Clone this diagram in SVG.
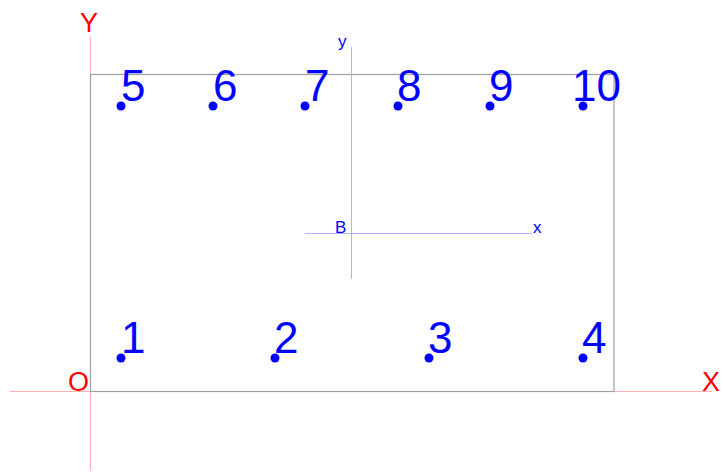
<svg xmlns="http://www.w3.org/2000/svg" width="723" height="472" viewBox="0 0 723 472">
<style>
.axis{stroke:#ffb0b0;stroke-width:1;fill:none}
.loc{stroke:#b0b0ff;stroke-width:1;fill:none}
.rect{stroke:#a0a0a0;stroke-width:1.2;fill:none}
.axl{fill:#ff0000;font-family:"Liberation Sans",Arial,sans-serif;font-size:27px}
.sm{fill:#0000ff;font-family:"Liberation Sans",Arial,sans-serif;font-size:17px}
.num{fill:#0000ff;font-family:"Liberation Sans",Arial,sans-serif;font-size:44px}
.pt{fill:#0000ff}
</style>
<g id="connectors">
<line class="axis" x1="90.5" y1="36" x2="90.5" y2="470"/>
<line class="axis" x1="10" y1="391.5" x2="712" y2="391.5"/>
<rect class="rect" x="90.5" y="74.5" width="523.5" height="317"/>
<line class="loc" x1="351.5" y1="47" x2="351.5" y2="279"/>
<line class="loc" x1="305" y1="233.5" x2="532" y2="233.5"/>
</g>
<g id="axis-labels">
<text class="axl" x="80" y="32">Y</text>
<text class="axl" x="68" y="391">O</text>
<text class="axl" x="702" y="391">X</text>
<text class="sm" x="338" y="47">y</text>
<text class="sm" x="335" y="233">B</text>
<text class="sm" x="533" y="233">x</text>
</g>
<g id="p1"><circle class="pt" cx="121" cy="358" r="4.5"/><text class="num" x="121" y="353">1</text></g>
<g id="p2"><circle class="pt" cx="275" cy="358" r="4.5"/><text class="num" x="274" y="353">2</text></g>
<g id="p3"><circle class="pt" cx="429" cy="358" r="4.5"/><text class="num" x="428" y="353">3</text></g>
<g id="p4"><circle class="pt" cx="583" cy="358" r="4.5"/><text class="num" x="582" y="353">4</text></g>
<g id="p5"><circle class="pt" cx="121" cy="106" r="4.5"/><text class="num" x="121" y="101">5</text></g>
<g id="p6"><circle class="pt" cx="213" cy="106" r="4.5"/><text class="num" x="213" y="101">6</text></g>
<g id="p7"><circle class="pt" cx="305" cy="106" r="4.5"/><text class="num" x="305" y="101">7</text></g>
<g id="p8"><circle class="pt" cx="398" cy="106" r="4.5"/><text class="num" x="397" y="101">8</text></g>
<g id="p9"><circle class="pt" cx="490" cy="106" r="4.5"/><text class="num" x="489" y="101">9</text></g>
<g id="p10"><circle class="pt" cx="583" cy="106" r="4.5"/><text class="num" x="572" y="101">10</text></g>
</svg>
